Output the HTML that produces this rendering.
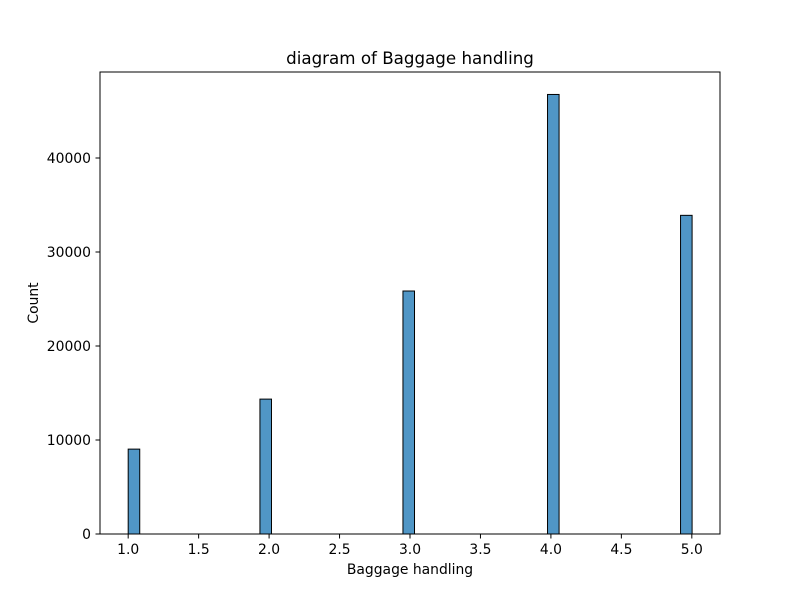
<!DOCTYPE html>
<html><head><meta charset="utf-8"><style>
body{margin:0;background:#fff;font-family:"Liberation Sans","DejaVu Sans",sans-serif}
svg text{font-family:"DejaVu Sans","Liberation Sans",sans-serif;font-size:13.9px}
</style></head><body>
<svg id="c" width="800" height="600">
<rect width="800" height="600" fill="#fff"/>
<text x="410" y="64" text-anchor="middle" style="font-size:16.7px">diagram of Baggage handling</text>
<g id="bars"></g><g id="ax"></g>
<rect x="100" y="72" width="620" height="462" fill="none" stroke="#000" stroke-width="1"/>
<text x="410" y="574" text-anchor="middle">Baggage handling</text>
<text transform="translate(38,303) rotate(-90)" text-anchor="middle">Count</text>
</svg>
<script>
const binLeft=[1.0,1.935,2.95,3.976,4.92];
const counts=[9030,14350,25850,46760,33900];
const xTicks=[1.0,1.5,2.0,2.5,3.0,3.5,4.0,4.5,5.0];
const yTicks=[0,10000,20000,30000,40000];
const binW=0.082;
const X=v=>100+(v-0.8)*620/4.4;
const Y=v=>534-v*376/40000;
const ns="http://www.w3.org/2000/svg";
const bars=document.getElementById('bars'),ax=document.getElementById('ax');
function mk(t,a,p){const e=document.createElementNS(ns,t);for(const k in a)e.setAttribute(k,a[k]);p.appendChild(e);return e;}
counts.forEach((c,i)=>{
const r=mk('rect',{x:X(binLeft[i]),y:Y(c),width:X(binLeft[i]+binW)-X(binLeft[i]),height:534-Y(c),fill:'#5096c6',stroke:'#000','stroke-width':1},bars);


});
xTicks.forEach(t=>{
const l=mk('line',{x1:X(t),x2:X(t),y1:534,y2:538.5,stroke:'#000','stroke-width':1},ax);


const s=mk('text',{x:X(t),y:554,'text-anchor':'middle'},ax);s.textContent=t.toFixed(1);


});
yTicks.forEach(t=>{
const l=mk('line',{x1:95.5,x2:100,y1:Y(t),y2:Y(t),stroke:'#000','stroke-width':1},ax);


const s=mk('text',{x:91,y:Y(t)+5,'text-anchor':'end'},ax);s.textContent=t;


});
</script>
</body></html>
